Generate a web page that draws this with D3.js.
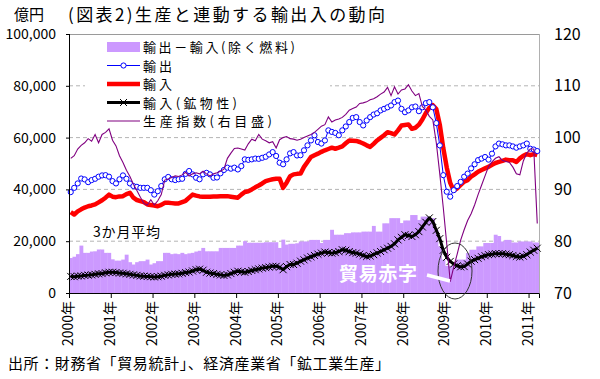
<!DOCTYPE html>
<html><head><meta charset="utf-8">
<script src="https://cdn.jsdelivr.net/npm/d3@7"></script>
<style>
html,body{margin:0;padding:0;background:#fff;}
svg{display:block;font-family:"Noto Sans CJK JP","Noto Sans",sans-serif;}
</style></head>
<body><svg id="c" width="600" height="379"></svg>
<script>
// ---- data (億円 / index) ----
const years = [2000,2001,2002,2003,2004,2005,2006,2007,2008,2009,2010,2011];
const categories = [];
years.forEach(y => { for (let m = 1; m <= 12; m++) { if (y === 2011 && m > 3) break; categories.push(y + "-" + m); } });

const balanceExFuel = [
13500,14000,15000,18300,15500,15500,16000,16100,16800,16800,15500,15500,
13000,12500,12500,12900,14800,11900,11000,11900,12300,12300,12900,11000,
11500,12300,12300,15500,15500,15000,15200,15000,15500,15000,15300,15500,
16000,16300,17400,16100,16100,16100,16100,17400,17400,17400,17400,17400,
18300,18300,20000,19400,19400,19400,19400,19400,19600,19600,19600,19600,
17400,20600,18700,19000,19000,19200,19900,19900,19900,20500,20500,20500,
19300,20500,20500,24400,22500,22500,22500,23100,23100,23400,23400,23400,
23700,23700,23700,25900,23700,23700,26900,26900,28900,28900,28900,27000,
28000,28000,30100,30100,28200,29500,29500,28900,28900,24400,18000,12900,
10500,10500,10500,12900,12900,12900,15400,16700,16700,18000,18000,19300,
19300,19300,22500,22000,19900,20500,20500,19500,19500,19900,19900,19900,
19900,19500,19500];

const exportsV = [
38960,40600,42300,44200,43860,42800,43600,44100,44900,45400,45500,44900,
43200,42300,43900,45400,44100,42300,41300,41000,40600,40600,40600,39700,
38000,39300,41300,43900,44800,43900,43600,43900,44100,46000,47100,45800,
44500,43900,45800,46400,45800,44500,44600,46200,47500,48400,48000,48400,
47700,49000,51600,51400,51600,51900,51800,52200,52600,53500,54400,52900,
50300,49700,51600,53900,54400,53100,53200,55100,57000,58900,60900,58300,
57700,58900,62800,62200,61800,60900,62800,64300,66000,67600,67900,66000,
64700,66600,67900,68900,69400,70500,71100,71700,72400,73700,74300,71100,
69800,70500,71700,72000,70200,71700,73300,73700,71700,65600,57000,45500,
39100,37200,39700,41300,42900,44900,46100,48100,49700,51300,51900,52500,
51500,53800,56600,57700,57400,57000,57000,56600,56100,56600,57000,57700,
55700,55400,54800];

const importsV = [
31200,30300,31500,32300,33000,33500,33800,34200,35000,35800,36800,38000,
37200,37000,37300,37400,38200,38700,36800,35900,35500,35100,34200,34000,
33800,33500,34000,34800,34800,34700,34600,34600,35100,35600,36800,38000,
37600,37300,37150,37200,37200,37300,37300,37400,37400,37400,37200,37000,
36800,38000,39000,39300,40000,40800,41500,42300,43200,43600,43900,44100,
44100,40600,42600,45100,45800,46000,46100,48700,50600,52500,53200,53800,
54500,55100,55600,56100,55700,56100,56600,57800,58900,58800,58700,58300,
57700,57000,56400,57600,58900,59900,60900,62100,61700,61200,62800,64700,
64900,65100,63400,63800,65000,67000,69500,71500,72500,71000,65000,56000,
48500,42500,39500,40400,41700,43000,43600,44900,45800,46800,47500,48100,
48700,49500,50200,50600,51000,51500,51300,51300,50600,52000,53000,53600,
53200,53600,53200];

const fuelImports = [
6400,6300,6500,6600,6800,6900,7000,7200,7400,7500,7800,8000,
8000,7900,7700,7600,7400,7200,7000,6800,6600,6500,6400,6300,
6200,6300,6500,6800,7000,7200,7300,7400,7600,7900,8100,8500,
9000,9200,8800,8000,7700,7500,7200,7000,6800,7000,7500,8000,
8400,8200,8000,8300,8700,9000,9300,9600,9800,10000,10300,10300,
10000,9000,10200,11000,11000,11500,12300,12800,13500,14000,14500,15000,
15400,15800,15600,15400,15600,16000,16700,16500,16000,15600,15400,15000,
14500,14100,14300,14800,15500,16000,16700,17300,18000,19000,20500,21500,
22500,22200,21800,22500,23700,25500,27300,29000,27600,24200,21000,16500,
13800,12200,11200,10500,10100,10200,11200,12300,12900,13400,14000,14400,
14800,15000,15200,15200,15200,15000,14800,14500,14100,13900,14200,14800,
15800,16500,17300];

const production = [
96.0,96.5,97.8,98.5,99.0,99.8,99.3,100.6,99.0,100.6,101.0,101.7,
99.5,98.4,96.5,95.2,93.7,92.5,91.0,89.8,88.5,87.3,87.0,88.0,
87.0,87.8,89.0,91.8,92.0,92.3,92.6,92.5,92.8,93.3,92.6,93.0,
93.2,93.0,93.5,93.0,92.6,93.0,93.2,93.5,93.9,96.0,97.0,97.9,
98.0,97.8,97.6,98.8,99.7,99.4,100.6,99.7,99.4,99.0,99.2,98.0,
99.6,100.0,100.2,99.8,99.7,99.5,99.7,100.0,100.3,100.6,101.0,101.6,
102.2,102.5,104.0,103.0,103.4,103.6,103.9,104.5,105.3,105.6,105.9,106.6,
106.7,106.9,107.3,107.5,107.9,108.4,108.8,109.7,108.1,109.8,108.4,109.2,
109.4,110.2,109.0,108.1,108.5,106.0,105.3,104.1,103.4,99.0,93.0,86.5,
79.5,72.2,75.0,77.5,80.2,82.2,84.0,85.3,87.0,89.0,90.8,92.6,
94.4,95.3,96.0,96.3,95.6,95.4,95.2,94.3,93.0,92.8,95.5,97.0,
97.8,97.8,83.4];

const leftTicks = [0,20000,40000,60000,80000,100000];
const rightTicks = [70,80,90,100,110,120];
const yearTickIdx = [0,12,24,36,48,60,72,84,96,108,120,132];
const seriesNames = ["輸出－輸入(除く燃料)","輸出","輸入","輸入(鉱物性)","生産指数(右目盛)"];

// ---- drawing ----
const svg = d3.select("#c");
const L = 69, R = 539, T = 34, B = 293;
const x = d3.scaleBand().domain(categories).range([L, R]).padding(0);
const xi = d3.scaleLinear().domain([0, categories.length]).range([L, R]);
const yL = d3.scaleLinear().domain([0, 100000]).range([B, T]);
const yR = d3.scaleLinear().domain([70, 120]).range([B, T]);
const cx = (d, i) => x(categories[i]) + x.bandwidth() / 2;

// gridlines
svg.append("g").selectAll("line").data(leftTicks.filter(v => v > 0 && v < 100000)).join("line")
  .attr("x1", L).attr("x2", R).attr("y1", d => yL(d)).attr("y2", d => yL(d))
  .attr("stroke", "#b4b4b4").attr("stroke-dasharray", "4,3").attr("stroke-width", 1);

// bars
svg.append("g").selectAll("rect").data(balanceExFuel).join("rect")
  .attr("x", (d, i) => x(categories[i])).attr("width", x.bandwidth() + 0.4)
  .attr("y", d => yL(d)).attr("height", d => B - yL(d))
  .attr("fill", "#cc99ff");

// frame
svg.append("line").attr("x1", L).attr("x2", R).attr("y1", T + 0.5).attr("y2", T + 0.5).attr("stroke", "#9a9a9a");
svg.append("line").attr("x1", R + 0.5).attr("x2", R + 0.5).attr("y1", T).attr("y2", B).attr("stroke", "#b0b0b0");

// legend background
svg.append("rect").attr("x", 85).attr("y", T + 2).attr("width", 245).attr("height", 90).attr("fill", "#fff");

const lineL = arr => d3.line().x((d, i) => cx(d, i)).y(d => yL(d))(arr);

// imports (red)
svg.append("path").attr("d", lineL(importsV)).attr("fill", "none").attr("stroke", "#ff0000")
  .attr("stroke-width", 4.5).attr("stroke-linejoin", "round");

// exports (blue)
svg.append("path").attr("d", lineL(exportsV)).attr("fill", "none").attr("stroke", "#0000ff").attr("stroke-width", 1);
svg.append("g").selectAll("circle").data(exportsV).join("circle")
  .attr("cx", (d, i) => cx(d, i)).attr("cy", d => yL(d)).attr("r", 2.6)
  .attr("fill", "#fff").attr("stroke", "#0000ff").attr("stroke-width", 1);

// fuel imports (black)
svg.append("path").attr("d", lineL(fuelImports)).attr("fill", "none").attr("stroke", "#000")
  .attr("stroke-width", 3).attr("stroke-linejoin", "round");
svg.append("g").selectAll("path").data(fuelImports).join("path")
  .attr("transform", (d, i) => `translate(${cx(d, i)},${yL(d)})`)
  .attr("d", "M-3.5,-3.5L3.5,3.5M-3.5,3.5L3.5,-3.5").attr("stroke", "#000").attr("stroke-width", 1);

// production (purple, right axis)
svg.append("path").attr("d", d3.line().x((d, i) => cx(d, i)).y(d => yR(d))(production))
  .attr("fill", "none").attr("stroke", "#800080").attr("stroke-width", 1.1);

// axes
const gl = svg.append("g").attr("transform", `translate(${L},0)`)
  .call(d3.axisLeft(yL).tickValues(leftTicks).tickSize(3).tickPadding(10).tickFormat(d3.format(",")));
gl.select(".domain").remove();
gl.selectAll("line").attr("stroke", "#000");
gl.selectAll("text").attr("font-size", 14).attr("fill", "#000")
  .attr("font-family", "'Noto Sans CJK JP',sans-serif");
svg.append("line").attr("x1", L + 0.5).attr("x2", L + 0.5).attr("y1", T).attr("y2", B).attr("stroke", "#000");

const gr = svg.append("g").attr("transform", `translate(${R},0)`)
  .call(d3.axisRight(yR).tickValues(rightTicks).tickSize(0).tickPadding(15));
gr.select(".domain").remove();
gr.selectAll("text").attr("font-size", 16).attr("fill", "#000")
  .attr("font-family", "'Noto Sans CJK JP',sans-serif");

const gb = svg.append("g").attr("transform", `translate(0,${B})`)
  .call(d3.axisBottom(xi).tickValues(yearTickIdx).tickSize(5).tickFormat(i => years[i / 12] + "年"));
gb.select(".domain").attr("stroke", "#000");
gb.selectAll("line").attr("stroke", "#000");
gb.selectAll("text").attr("font-size", 14).attr("fill", "#000")
  .attr("font-family", "'Noto Sans CJK JP',sans-serif")
  .attr("transform", "rotate(-90)").attr("text-anchor", "end")
  .attr("x", -8).attr("y", -1).attr("dy", "0.35em");

// legend
const rows = [47, 65.5, 84, 102.5, 121];
const lg = svg.append("g");
lg.append("rect").attr("x", 107).attr("y", rows[0] - 5).attr("width", 33).attr("height", 10).attr("fill", "#cc99ff");
lg.append("line").attr("x1", 107).attr("x2", 140).attr("y1", rows[1]).attr("y2", rows[1]).attr("stroke", "#0000ff");
lg.append("circle").attr("cx", 123.5).attr("cy", rows[1]).attr("r", 2.6).attr("fill", "#fff").attr("stroke", "#0000ff");
lg.append("line").attr("x1", 107).attr("x2", 140).attr("y1", rows[2]).attr("y2", rows[2]).attr("stroke", "#ff0000").attr("stroke-width", 4.5);
lg.append("line").attr("x1", 107).attr("x2", 140).attr("y1", rows[3]).attr("y2", rows[3]).attr("stroke", "#000").attr("stroke-width", 3);
lg.append("path").attr("transform", `translate(123.5,${rows[3]})`).attr("d", "M-3.5,-3.5L3.5,3.5M-3.5,3.5L3.5,-3.5").attr("stroke", "#000");
lg.append("line").attr("x1", 107).attr("x2", 140).attr("y1", rows[4]).attr("y2", rows[4]).attr("stroke", "#800080").attr("stroke-width", 1.1);
const lw = [152, 29, 29, 94, 129];
seriesNames.forEach((s, k) => {
  lg.append("text").attr("x", 143).attr("y", rows[k] + 5).attr("font-size", 13).attr("fill", "#000")
    .attr("textLength", lw[k]).attr("lengthAdjust", "spacing").text(s);
});

// annotations
svg.append("text").attr("x", 93).attr("y", 237).attr("font-size", 14).attr("fill", "#000")
  .attr("textLength", 67).attr("lengthAdjust", "spacing").text("3か月平均");
svg.append("ellipse").attr("cx", 455).attr("cy", 271).attr("rx", 17).attr("ry", 28)
  .attr("fill", "none").attr("stroke", "#333").attr("stroke-width", 1);
svg.append("line").attr("x1", 427).attr("y1", 275).attr("x2", 450).attr("y2", 281)
  .attr("stroke", "#fff").attr("stroke-width", 3.5);
svg.append("text").attr("x", 339).attr("y", 281).attr("font-size", 19).attr("font-weight", "bold")
  .attr("fill", "#fff").attr("textLength", 78).attr("lengthAdjust", "spacing").text("貿易赤字");

// titles
svg.append("text").attr("x", 14).attr("y", 20).attr("font-size", 15).attr("fill", "#000").text("億円");
svg.append("text").attr("x", 68).attr("y", 21).attr("font-size", 17).attr("fill", "#000")
  .attr("textLength", 317).attr("lengthAdjust", "spacing").text("(図表2)生産と連動する輸出入の動向");
svg.append("text").attr("x", 8).attr("y", 369).attr("font-size", 15).attr("fill", "#000")
  .attr("textLength", 382).attr("lengthAdjust", "spacing").text("出所：財務省「貿易統計」、経済産業省「鉱工業生産」");
</script></body></html>
